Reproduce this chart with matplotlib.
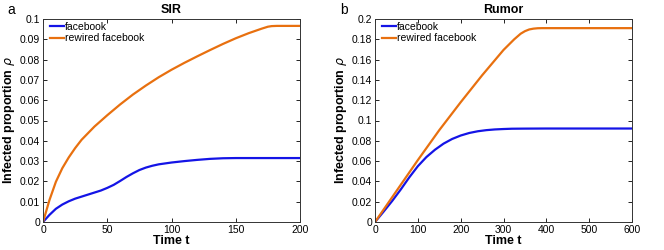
import numpy as np
import matplotlib
matplotlib.use("Agg")
import matplotlib.pyplot as plt

plt.rcParams['font.family'] = ['Liberation Sans', 'DejaVu Sans']

# SIR panel
sir_t_rw = [0, 5, 10, 15, 20, 25, 30, 40, 50, 60, 70, 80, 90, 100, 110, 120,
            130, 140, 150, 160, 170, 175, 178, 182, 200]
sir_rw = [0, 0.0108, 0.0198, 0.0265, 0.0318, 0.0364, 0.0405, 0.0470, 0.0526,
          0.0579, 0.0628, 0.0672, 0.0713, 0.0750, 0.0784, 0.0816, 0.0847,
          0.0877, 0.0905, 0.0930, 0.0952, 0.0962, 0.0965, 0.0966, 0.0966]
sir_t_fb = [0, 5, 10, 15, 20, 25, 30, 35, 40, 45, 50, 55, 60, 65, 70, 75, 80,
            85, 90, 100, 110, 120, 130, 140, 150, 200]
sir_fb = [0, 0.0035, 0.0065, 0.0086, 0.0102, 0.0115, 0.0125, 0.0135, 0.0145,
          0.0155, 0.0168, 0.0183, 0.0202, 0.0222, 0.0240, 0.0256, 0.0268,
          0.0277, 0.0284, 0.0293, 0.0300, 0.0306, 0.0311, 0.0314, 0.0315,
          0.0315]

# Rumor panel
rum_t_fb = [0, 20, 40, 60, 80, 100, 120, 140, 160, 180, 200, 220, 240, 260,
            280, 300, 320, 350, 400, 600]
rum_fb = [0, 0.0102, 0.0207, 0.0320, 0.0440, 0.0550, 0.0640, 0.0712, 0.0772,
          0.0818, 0.0852, 0.0877, 0.0894, 0.0905, 0.0912, 0.0916, 0.0919,
          0.0920, 0.0921, 0.0921]
rum_t_rw = [0, 50, 100, 150, 200, 250, 300, 325, 340, 350, 360, 370, 380,
            390, 400, 600]
rum_rw = [0, 0.0305, 0.0610, 0.0905, 0.1180, 0.1445, 0.1695, 0.1800, 0.1855,
          0.1880, 0.1897, 0.1905, 0.1909, 0.1910, 0.1910, 0.1910]

panels = [
    ('a', 'SIR', sir_t_fb, sir_fb, sir_t_rw, sir_rw, 200, 50, 0.1, 0.01),
    ('b', 'Rumor', rum_t_fb, rum_fb, rum_t_rw, rum_rw, 600, 100, 0.2, 0.02),
]

blue = '#1414e6'
orange = '#e8700f'

fig = plt.figure(figsize=(6.64, 2.5), dpi=100)
lefts = [0.0648, 0.5648]

for i, (letter, title, tf, fb, tr, rw, xmax, xstep, ymax, ystep) in enumerate(panels):
    ax = fig.add_axes([lefts[i], 0.112, 0.387, 0.812])
    ax.plot(tf, fb, color=blue, lw=1.6, label='facebook')
    ax.plot(tr, rw, color=orange, lw=1.6, label='rewired facebook')
    ax.set_xlim(0, xmax)
    ax.set_ylim(0, ymax)
    ax.set_xticks(np.arange(0, xmax + 1, xstep))
    yt = np.round(np.arange(0, ymax + ystep / 2, ystep), 3)
    ax.set_yticks(yt)
    ax.set_yticklabels(['%g' % v for v in yt])
    ax.tick_params(direction='in', top=True, right=True, labelsize=7.5,
                   length=3, width=0.6, pad=2)
    for s in ax.spines.values():
        s.set_linewidth(0.7)
        s.set_color('#333333')
    ax.set_title(title, fontsize=9, fontweight='bold', pad=4)
    ax.set_xlabel('Time t', fontsize=9, fontweight='bold', labelpad=0)
    ax.set_ylabel(r'Infected proportion $\rho$', fontsize=9,
                  fontweight='bold', labelpad=2)
    ax.legend(loc='upper left', bbox_to_anchor=(0.015, 1.0), frameon=False,
              fontsize=7.5, handlelength=1.3, handletextpad=0.1,
              borderaxespad=0.1, labelspacing=0.1, borderpad=0.2)
    fig.text(lefts[i] - 0.053, 0.945, letter, fontsize=10)

fig.savefig('out.png', dpi=100)
